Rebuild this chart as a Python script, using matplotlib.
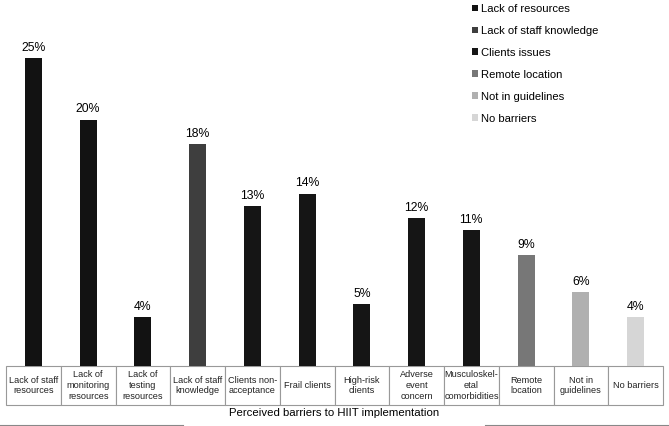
import matplotlib
matplotlib.use("Agg")
import matplotlib.pyplot as plt
from matplotlib.patches import Patch
from matplotlib.lines import Line2D

plt.rcParams['font.family'] = ['Liberation Sans', 'DejaVu Sans']

categories = ["Lack of staff\nresources", "Lack of\nmonitoring\nresources", "Lack of\ntesting\nresources",
              "Lack of staff\nknowledge", "Clients non-\nacceptance", "Frail clients", "High-risk\nclients",
              "Adverse\nevent\nconcern", "Musculoskel-\netal\ncomorbidities", "Remote\nlocation",
              "Not in\nguidelines", "No barriers"]
values = [25, 20, 4, 18, 13, 14, 5, 12, 11, 9, 6, 4]
groups = ["Lack of resources", "Lack of resources", "Lack of resources", "Lack of staff knowledge",
          "Clients issues", "Clients issues", "Clients issues", "Clients issues", "Clients issues",
          "Remote location", "Not in guidelines", "No barriers"]
group_names = ["Lack of resources", "Lack of staff knowledge", "Clients issues",
               "Remote location", "Not in guidelines", "No barriers"]
group_colors = {"Lack of resources": "#121212", "Lack of staff knowledge": "#3e3e3e",
                "Clients issues": "#151515", "Remote location": "#777777",
                "Not in guidelines": "#b0b0b0", "No barriers": "#d6d6d6"}

W, H = 669, 426
fig = plt.figure(figsize=(W / 100, H / 100), dpi=100)
ax_left, ax_right = 6 / W, 663 / W
ax_bottom = (H - 366) / H
ax = fig.add_axes([ax_left, ax_bottom, ax_right - ax_left, 1 - ax_bottom])

x = list(range(len(values)))
colors = [group_colors[g] for g in groups]
bars = ax.bar(x, values, width=0.31, color=colors)
for xi, v in zip(x, values):
    ax.annotate(f"{v}%", (xi, v), xytext=(0, 3), textcoords="offset points",
                ha="center", va="bottom", fontsize=8.8)

ax.set_xlim(-0.5, len(values) - 0.5)
ax.set_ylim(0, 366 / 12.32)
ax.axis("off")

tbl = ax.table(cellText=[categories], cellLoc="center",
               bbox=[0, -39 / 366, 1, 39 / 366])
tbl.auto_set_font_size(False)
tbl.set_fontsize(6.6)
for cell in tbl.get_celld().values():
    cell.set_edgecolor("#999999")
    cell.set_linewidth(0.8)
    cell.get_text().set_linespacing(1.25)
    cell.get_text().set_color("#222222")

fig.text(334 / W, 1 - 413 / H, "Perceived barriers to HIIT implementation",
         ha="center", va="center", fontsize=8.2)

handles = [Patch(facecolor=group_colors[g], edgecolor="none") for g in group_names]
leg = fig.legend(handles, group_names, loc="upper left", bbox_to_anchor=(472 / W, 1 - 4 / H),
                 frameon=False, fontsize=8.1, handlelength=0.55, handleheight=0.55,
                 handletextpad=0.22, labelspacing=1.06, borderaxespad=0, borderpad=0)

fig.add_artist(Line2D([0, 183 / W], [1 - 425 / H] * 2, color="#888888", lw=0.8))
fig.add_artist(Line2D([485 / W, 1], [1 - 425 / H] * 2, color="#888888", lw=0.8))

fig.savefig("out.png", dpi=100)
